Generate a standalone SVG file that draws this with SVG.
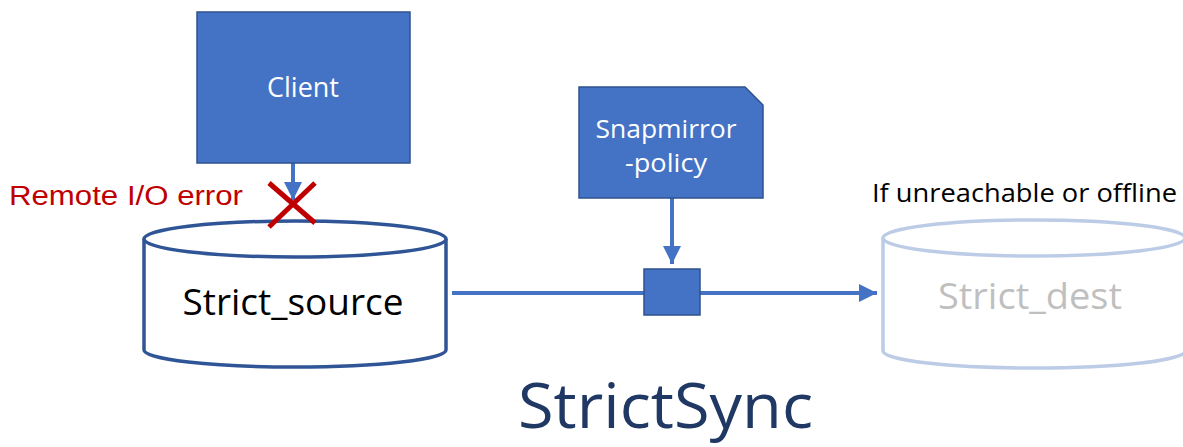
<svg xmlns="http://www.w3.org/2000/svg" width="1183" height="447" viewBox="0 0 1183 447">
<defs>
<style>
.box{fill:#4472C4;stroke:#2F528F;stroke-width:1.5}
.lbl{font-family:"Open Sans","Noto Sans",sans-serif;fill:#FFFFFF;text-anchor:middle}
.conn{stroke:#4472C4;stroke-width:4;fill:none}
.cyl{fill:#FFFFFF;stroke:#2F5597;stroke-width:3.5}
.cyl2{fill:#FFFFFF;stroke:#BCCCE6;stroke-width:3.5}
</style>
<marker id="ah" markerUnits="userSpaceOnUse" markerWidth="20" markerHeight="20" refX="18" refY="10" orient="auto">
<path d="M0,1 L18,10 L0,19 Z" fill="#4472C4"/>
</marker>
</defs>
<rect width="1183" height="447" fill="#FFFFFF"/>

<g id="connectors">
<line class="conn" x1="293" y1="163" x2="293" y2="200" marker-end="url(#ah)"/>
<line class="conn" x1="672" y1="198" x2="672" y2="264" marker-end="url(#ah)"/>
<line class="conn" x1="452" y1="293" x2="644" y2="293"/>
<line class="conn" x1="700" y1="293" x2="877" y2="293" marker-end="url(#ah)"/>
</g>

<g id="client">
<rect class="box" x="197" y="12" width="213" height="151"/>
<text class="lbl" x="303" y="97" font-size="27" textLength="72" lengthAdjust="spacingAndGlyphs">Client</text>
</g>

<g id="snapmirror-policy">
<path class="box" d="M579,87 L745,87 L763,105 L763,198 L579,198 Z"/>
<text class="lbl" x="666" y="138" font-size="25" textLength="141" lengthAdjust="spacingAndGlyphs">Snapmirror</text>
<text class="lbl" x="666" y="172" font-size="25" textLength="82" lengthAdjust="spacingAndGlyphs">-policy</text>
</g>

<g id="sync-point">
<rect class="box" x="644" y="269" width="56" height="46"/>
</g>

<g id="strict-source">
<path class="cyl" d="M144,239 L144,350 A151,17 0 0 0 446,350 L446,239"/>
<ellipse class="cyl" cx="295" cy="239" rx="151" ry="18"/>
<text x="293" y="315" font-family="Open Sans, Noto Sans, sans-serif" font-size="37" fill="#000000" text-anchor="middle" textLength="221" lengthAdjust="spacingAndGlyphs">Strict_source</text>
</g>

<g id="strict-dest">
<path class="cyl2" d="M883,238 L883,351 A151,17 0 0 0 1185,351 L1185,238"/>
<ellipse class="cyl2" cx="1034" cy="238" rx="151" ry="18"/>
<text x="1030" y="309" font-family="Open Sans, Noto Sans, sans-serif" font-size="37" fill="#BFBFBF" text-anchor="middle" textLength="184" lengthAdjust="spacingAndGlyphs">Strict_dest</text>
</g>

<g id="error-mark">
<line x1="269" y1="183" x2="315" y2="223" stroke="#C00000" stroke-width="5"/>
<line x1="315" y1="183" x2="269" y2="227" stroke="#C00000" stroke-width="5"/>
<text x="9" y="205" font-family="Liberation Sans, Arial, sans-serif" font-size="27" fill="#C00000" textLength="234" lengthAdjust="spacingAndGlyphs">Remote I/O error</text>
</g>

<g id="note">
<text x="872" y="202" font-family="Open Sans, Noto Sans, sans-serif" font-size="25" fill="#000000" textLength="305" lengthAdjust="spacingAndGlyphs">If unreachable or offline</text>
</g>

<g id="title">
<text x="518" y="428" font-family="Open Sans, Noto Sans, sans-serif" font-size="62" fill="#203864" textLength="295" lengthAdjust="spacingAndGlyphs">StrictSync</text>
</g>
</svg>
